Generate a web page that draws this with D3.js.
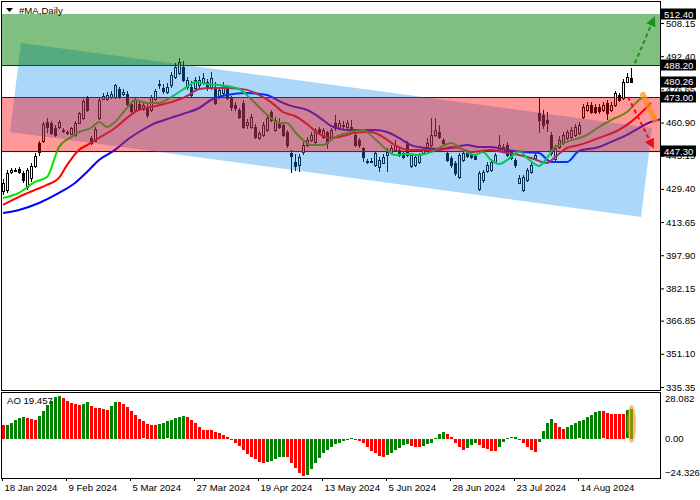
<!DOCTYPE html>
<html><head><meta charset="utf-8">
<script src="https://cdn.jsdelivr.net/npm/d3@7"></script>
<style>
body{margin:0;background:#fff}
svg{display:block}
text{font-family:"Liberation Sans",Arial,sans-serif;font-size:9.6px;fill:#000}
</style>
</head><body>
<svg id="c" width="700" height="500"></svg>
<script>
// ---------- data ----------
const dateIdx = [0,16,32,48,64,80,96,112,128,144];
const dateLabels = ["18 Jan 2024","9 Feb 2024","5 Mar 2024","27 Mar 2024","19 Apr 2024","13 May 2024","5 Jun 2024","28 Jun 2024","23 Jul 2024","14 Aug 2024"];
const priceTicks = [508.15,492.40,476.65,460.90,445.15,429.40,413.65,397.90,382.15,366.85,351.10,335.35];
const markedPrices = [512.40,488.20,480.26,473.00,447.30];
const aoTicks = [28.082,0,-24.326];

const opens = [428.5,429,437.5,438.3,438.8,437,430.5,434.5,440.5,451,
452,461,460.5,458.5,458.8,457.5,456.5,455.5,455,460.5,
463,472.5,453.5,452.3,463,472,472,473,473,477,
474.5,474.5,469.5,467,469.5,467.5,468.5,467,472,478.5,
477.5,475.4,478.7,482.5,484.4,487.3,477.8,477.8,477.3,478.7,
479.7,480.2,477.8,477.8,473,474.9,477.3,472.5,469.2,466.9,
470.2,459.7,458.8,458.8,453.6,455.0,457.4,465.9,457.4,461.1,
459.7,456.4,446.5,442.2,440.7,446.9,450.2,452.6,451.7,457.8,
454.0,456.4,453.6,460.7,458.3,459.9,458.8,458.8,455.0,452.6,
448.8,442.6,442.6,440.7,439.8,441.7,445.5,446.4,447.9,447.9,
446.4,451.2,440.3,440.7,442.2,446.4,449.3,450.2,455,456.4,
452.6,446.4,444.0,441.7,435.0,443.1,446.4,446.0,445.0,429.5,
433.6,437.9,438.4,442.2,447.9,447.4,450.2,447,443.1,432.2,
428.9,433.6,437.4,444.0,465.4,464.5,462.1,455.0,443.6,449.3,
451.2,453.6,454.0,455.0,456,463.5,466.9,469.2,468.3,468.3,
466.9,470.2,466.9,469.2,474.0,472.5,480.2,482.0];
const highs = [434.0,438.5,439.5,439.5,440,438,439.5,441.5,446.5,452,
461,463,461.5,459.5,462,458.5,457.5,459,461.5,466,
472,473.5,454.5,459,472.5,475,475.5,476,479,478,
477,476,470.5,473,470.5,470.5,469.5,474,477,481,
479,479.5,485,489.2,491.5,490,482.5,480.5,482.5,483,
484.5,481.5,485,480,477.5,480,478.5,473.5,470.5,468,
471.5,462.5,465,460,457,461,464.5,467,463.5,463,
461,457.5,448,446,446,451.5,454,456.5,458.5,459,
458.5,457,458.5,464.5,462,461.5,462,462.1,456,453.5,
449.5,443.5,444,447.5,444.5,446,448.8,450,452.6,449,
447.5,452,446.5,446,446.5,449,453.6,463,463,459.7,
453.5,447.5,445,442.5,446.5,447.5,448,447,446,438,
438.5,442,443.5,446.5,455,450.5,451.5,448,444,436,
436,439.5,442,447,473,467,466,456.5,450,454.5,
456.5,457.5,459,460,461,469.5,470.5,470.5,469.5,469.5,
470.5,471.5,470.5,476,475,481.5,484.4,487];
const lows = [426.5,427.5,436.5,437.5,436.5,432,429,432.5,439.5,445,
451,456,455,454,458,456,455,455,454,460,
462,466,450,451.5,462,471.5,471,472,472,472,
473.5,468,465,466,466.5,466.5,463,466,471,477,
474.5,474.5,477.5,481.5,483.5,480,476.5,473,476.5,477.5,
478.5,476,476.5,469,472,474,471.5,466.5,466.5,462.5,
458,458,458,453,452.5,454,456.5,461,456.5,458,
454,449,437,438,437.5,445.5,449.5,451.5,450.5,455.5,
453,448.5,452.5,457,457.5,458,458,455.5,449.5,449,
442,441,441.5,440,437.5,441,437.5,445.5,447,444.5,
443.5,444.5,439.5,440,441,445.5,448.5,449.5,454,453,
450,442,439.5,435.5,434,442,444,443.5,443,428.5,
432,437,437.5,441.5,447,446.5,444.5,443,439.5,431.5,
428,432.5,436.5,443,456,458,456.5,445,442,448.5,
450,452.5,453,454,455,462.5,466,465,465,465,
466,462.1,466,468.5,470.5,471.5,479.5,479.5];
const closes = [432.0,437,438.5,438.6,437.5,433.5,438.5,440.5,445,447,
460,458.8,455.8,455,461,457.2,456,458.3,460.5,465.2,
471,467,451,458,471.6,473.5,474,474.5,478.5,473,
475.5,469.5,466.5,471.5,467.5,469,464.5,473,476,479,
475.8,477.8,483.5,487.3,489.6,481.1,481.1,474.0,481.1,481.1,
482,477.3,482,470.2,476.3,478.7,472.5,468.3,467.8,463.5,
458.8,461,463.5,454.0,455.9,459.7,463,462.1,462.1,458.8,
455,450.2,445.0,440.3,444.5,450.2,452.6,455,457.4,456.4,
457.4,451.2,457.4,458.3,460.7,459.5,460.7,456.4,450.2,450.2,
444.5,442.2,442.8,446.4,443.1,444.5,446.9,448.8,450.2,445.5,
444.5,445.5,445.5,444.5,445.5,447.9,451.2,455,457.4,454.0,
451.2,443.1,440.7,436.9,445.5,446.4,445.0,444.5,443.8,437.0,
437.3,440.7,442.2,445.5,450.2,449.3,445.5,444,440.7,434.5,
435.0,438.4,440.7,445.5,462.1,459.7,460.7,446.4,449,452.6,
455,456.4,457.4,458.8,459.7,468.3,469.2,465.9,465.9,466.4,
469.2,465.4,469.2,474.9,471.6,480.2,482.5,480.26];

// Alligator lines (sampled, shifted forward)
const lipsIdx = [0,4,8,11,13,14,17,19,22,24,26,28,31,33,36,39,42,46,48,51,54,59,62,65,67,69,71,73,75,77,80,83,87,90,93,96,98,101,104,107,110,112,115,118,120,122,124,127,129,131,134,136,138,141,146,149,152,156,159,160];
const lipsVal = [425.1,427.5,432.7,435.0,444.5,449.3,454.0,456.4,458.3,461.2,458.8,461.2,467.8,471.6,470.2,470.2,473.0,477.8,480.1,479.2,478.7,476.8,472.1,466.4,463.0,460.7,460.7,456.4,452.6,450.2,450.2,454.0,456.4,457.4,453.1,447.9,445.5,446.0,445.5,446.9,449.8,451.2,447.9,445.5,446.9,443.1,441.2,444.5,447.4,444.1,440.3,444.1,449.3,451.7,455.0,458.8,462.1,465.9,471.6,473.0];
const teethIdx = [0,4,8,11,14,16,19,21,24,28,31,34,37,42,46,49,52,56,61,64,67,70,73,76,79,82,85,88,92,95,98,101,105,109,112,114,117,122,126,129,132,136,138,141,144,149,154,157,161,162];
const teethVal = [421.8,425.6,428.9,431.3,434.6,440.7,447.9,450.2,453.6,458.3,463.1,466.9,468.3,470.6,473.5,476.8,477.3,477.3,476.4,474.0,470.6,465.9,464.0,460.2,455.5,453.6,454.5,456.0,456.4,454.0,450.2,447.9,447.9,447.9,449.3,448.8,446.9,447.9,446.4,445.5,444.1,441.7,444.5,448.8,450.2,453.6,457.4,461.2,468.3,470.2];
const jawIdx = [0,4,9,14,18,21,24,28,31,34,37,42,45,49,52,56,61,66,69,72,76,79,82,86,89,93,96,99,102,106,109,112,116,119,122,126,130,134,137,141,144,149,152,156,159,162,165];
const jawVal = [417.9,419.4,422.7,427.5,432.2,437.4,443.1,447.9,452.6,456.4,459.7,463.1,465.0,467.8,471.6,474.0,474.9,474.0,471.1,468.8,466.9,463.5,459.3,457.4,457.4,457.4,456.4,453.6,450.2,448.8,448.3,448.8,450.2,449.3,449.3,447.9,446.9,446.4,442.2,442.2,447.4,449.3,451.7,455.0,458.3,461.2,462.6];

// Awesome Oscillator
const aoValues = [9.2,9.4,10.7,12.4,13.5,14.2,13.5,12.9,12.4,15.1,
18.3,22.3,25.1,27.3,28.082,26.6,25.1,23.8,22.9,22.3,
22.9,24.2,21.6,20.1,20.0,19.4,19.0,21.6,24.2,24.1,
22.9,20.7,18.3,15.7,13.1,11.4,9.6,9.2,9.1,9.8,
10.3,11.4,12.4,13.5,14.2,15.3,14.2,12.4,10.7,7.6,
5.9,5.8,5.7,4.8,3.7,2.6,1.1,-0.7,-2.8,-4.6,
-7.2,-9.8,-11.6,-13.3,-14.8,-15.5,-15.3,-14.4,-13.3,-12.0,
-11.9,-12.1,-15.9,-19.2,-22.5,-24.326,-23.6,-19.9,-15.9,-12.7,
-9.4,-7.2,-5.0,-3.5,-2.4,-1.1,0.0,
0.4,-0.3,-1.3,-2.8,-5.0,-7.6,-9.4,-11.1,-11.6,-10.5,
-9.0,-7.2,-5.7,-3.9,-3.5,-4.6,-5.0,-5.1,-4.6,-3.5,
-2.4,0.6,3.1,4.4,3.1,1.1,-2.4,-5.0,-7.2,-5.7,
-3.9,-2.8,-3.9,-5.7,-6.8,-7.6,-7.7,-5.0,-1.7,0.5,
0.9,1.1,-0.7,-2.4,-5.0,-7.2,-8.3,-1.7,5.2,10.3,
12.9,10.3,8.1,6.6,8.1,9.2,10.3,11.4,12.4,14.2,
15.7,17.5,18.1,18.0,16.8,16.4,16.3,16.2,16.1,18.6,
19.457];
const aoHighlight = {i:157, from:-2.6, to:22.2};

// Drawn objects (bar index, price)
const channel = [[4.5,498.7],[162.25,458.3],[159.5,416.1],[1.75,456.4]];
const greenZone = [512.40,488.20];
const redZone = [473.00,447.30];
const hLines = [488.20,473.00,447.30];
const upArrow = [[158,489.1],[162.75,510.5]];
const downArrow = [[156.25,473.0],[162.5,449.3]];
const orangeStroke = [[160,474.0],[163,462.1]];

// ---------- scales ----------
const R=660, L=2, mainTop=2, mainBot=390, aoTop=393, aoBot=478;
const x = d3.scaleLinear().domain([0,1]).range([3,7]);
const px = i => Math.round(x(i));
const y = d3.scaleLinear().domain([335.35,508.15]).range([387,23]);
const ya = d3.scaleLinear().domain([-24.326,28.082]).range([476,396]);

const svg = d3.select("#c");
const defs = svg.append("defs");
defs.append("clipPath").attr("id","cm").append("rect").attr("x",L).attr("y",mainTop).attr("width",R-L).attr("height",mainBot-mainTop);
defs.append("clipPath").attr("id","ca").append("rect").attr("x",L).attr("y",aoTop).attr("width",R-L).attr("height",aoBot-aoTop);
defs.append("marker").attr("id","ag").attr("viewBox","0 0 10 10").attr("refX",8).attr("refY",5)
  .attr("markerWidth",5).attr("markerHeight",5).attr("orient","auto")
  .append("path").attr("d","M0,0L10,5L0,10Z").attr("fill","#1f8f1f");
defs.append("marker").attr("id","ar").attr("viewBox","0 0 10 10").attr("refX",8).attr("refY",5)
  .attr("markerWidth",5).attr("markerHeight",5).attr("orient","auto")
  .append("path").attr("d","M0,0L10,5L0,10Z").attr("fill","#e8101a");

const gm = svg.append("g").attr("clip-path","url(#cm)");

// horizontal levels
gm.selectAll(".hl").data(hLines).join("line")
  .attr("x1",L).attr("x2",R).attr("y1",d=>Math.round(y(d))+0.5).attr("y2",d=>Math.round(y(d))+0.5)
  .attr("stroke","#000").attr("stroke-width",1).attr("shape-rendering","crispEdges");

// candles
const bars = d3.range(closes.length).map(i=>({i,o:opens[i],h:highs[i],l:lows[i],c:closes[i]}));
const gc = gm.append("g").attr("shape-rendering","crispEdges");
gc.selectAll(".w").data(bars).join("line")
  .attr("x1",d=>px(d.i)+0.5).attr("x2",d=>px(d.i)+0.5)
  .attr("y1",d=>Math.round(y(d.h))).attr("y2",d=>Math.round(y(d.l)))
  .attr("stroke","#000");
gc.selectAll(".b").data(bars).join("rect")
  .attr("x",d=>px(d.i)-0.5)
  .attr("y",d=>Math.round(y(Math.max(d.o,d.c)))+0.5)
  .attr("width",2)
  .attr("height",d=>Math.max(1,Math.round(y(Math.min(d.o,d.c)))-Math.round(y(Math.max(d.o,d.c)))))
  .attr("fill",d=>d.c>=d.o?"#fff":"#000").attr("stroke","#000");

// alligator
const ln = d3.line().x(d=>x(d[0])).y(d=>y(d[1])).curve(d3.curveMonotoneX);
[[jawIdx,jawVal,"#0000ff"],[teethIdx,teethVal,"#ff0000"],[lipsIdx,lipsVal,"#00e600"]].forEach(([ix,vv,col])=>{
  gm.append("path").attr("d",ln(ix.map((k,j)=>[k,vv[j]]))).attr("fill","none").attr("stroke",col).attr("stroke-width",2);
});

// translucent channel and zones on top
gm.append("path").attr("d", d3.line().x(d=>x(d[0])).y(d=>y(d[1]))(channel)+"Z")
  .attr("fill","rgb(12,141,241)").attr("fill-opacity",0.35);
gm.append("rect").attr("x",L).attr("width",R-L)
  .attr("y",y(redZone[0])).attr("height",y(redZone[1])-y(redZone[0])+1)
  .attr("fill","rgb(255,0,0)").attr("fill-opacity",0.4);
gm.append("rect").attr("x",L).attr("width",R-L)
  .attr("y",y(greenZone[0])).attr("height",y(greenZone[1])-y(greenZone[0])+1)
  .attr("fill","rgb(0,128,0)").attr("fill-opacity",0.5);

// arrows
gm.append("line").attr("x1",x(orangeStroke[0][0])).attr("y1",y(orangeStroke[0][1]))
  .attr("x2",x(orangeStroke[1][0])).attr("y2",y(orangeStroke[1][1]))
  .attr("stroke","#ff8c1a").attr("stroke-opacity",0.7).attr("stroke-width",6).attr("stroke-linecap","round");
gm.append("line").attr("x1",x(upArrow[0][0])).attr("y1",y(upArrow[0][1]))
  .attr("x2",x(upArrow[1][0])).attr("y2",y(upArrow[1][1]))
  .attr("stroke","#1f8f1f").attr("stroke-width",2).attr("stroke-dasharray","4,3").attr("marker-end","url(#ag)");
gm.append("line").attr("x1",x(downArrow[0][0])).attr("y1",y(downArrow[0][1]))
  .attr("x2",x(downArrow[1][0])).attr("y2",y(downArrow[1][1]))
  .attr("stroke","#e8101a").attr("stroke-width",2).attr("stroke-dasharray","4,3").attr("marker-end","url(#ar)");

// AO panel
const ga = svg.append("g").attr("clip-path","url(#ca)").attr("shape-rendering","crispEdges");
ga.selectAll("rect").data(aoValues).join("rect")
  .attr("x",(d,i)=>px(i)-1).attr("width",3)
  .attr("y",d=>Math.round(Math.min(ya(d),ya(0))))
  .attr("height",d=>Math.max(1,Math.round(Math.abs(ya(d)-ya(0)))))
  .attr("fill",(d,i)=> (i>0 && d>aoValues[i-1]) ? "#008000" : "#ff0000");
svg.append("ellipse").attr("cx",px(aoHighlight.i)+0.5).attr("cy",(ya(aoHighlight.from)+ya(aoHighlight.to))/2)
  .attr("rx",4.5).attr("ry",(ya(aoHighlight.from)-ya(aoHighlight.to))/2)
  .attr("fill","#e89a10").attr("fill-opacity",0.6);

// frames
const fr = svg.append("g").attr("fill","none").attr("stroke","#000").attr("shape-rendering","crispEdges");
fr.append("rect").attr("x",1.5).attr("y",1.5).attr("width",R-1.5).attr("height",mainBot-1.5);
fr.append("rect").attr("x",1.5).attr("y",aoTop-0.5).attr("width",R-1.5).attr("height",aoBot-aoTop+0.5);

// price axis
const ay = svg.append("g").attr("transform",`translate(${R},0)`)
  .call(d3.axisRight(y).tickValues(priceTicks).tickSize(4).tickPadding(2).tickFormat(d3.format(".2f")));
ay.select(".domain").remove();
ay.attr("font-family",null).attr("font-size",null);

// marked price boxes
const mb = svg.append("g");
mb.selectAll("rect").data(markedPrices).join("rect")
  .attr("x",R+1).attr("width",35).attr("y",d=>Math.round(y(d))-5.5).attr("height",11).attr("fill","#000");
mb.selectAll("text").data(markedPrices).join("text")
  .attr("x",R+4).attr("y",d=>y(d)+3.5).style("fill","#fff").text(d=>d.toFixed(2));

// AO axis
const aa = svg.append("g").attr("transform",`translate(${R},0)`)
  .call(d3.axisRight(ya).tickValues(aoTicks).tickSize(0).tickPadding(5).tickFormat(d=>d===0?"0.00":d3.format(".3f")(d)));
aa.select(".domain").remove();
aa.attr("font-family",null).attr("font-size",null);
aa.selectAll("text").attr("y",(d)=> d===28.082?2:(d<0?-4:0));

// date axis
const ax = svg.append("g").attr("transform",`translate(-1,${aoBot})`)
  .call(d3.axisBottom(x).tickValues(dateIdx).tickSize(3).tickPadding(3).tickFormat((d,i)=>dateLabels[i]));
ax.select(".domain").remove();
ax.attr("font-family",null).attr("font-size",null);
ax.selectAll("text").attr("text-anchor","start").attr("x",2);

// titles
svg.append("path").attr("d","M6,8L13,8L9.5,12Z").attr("fill","#000");
svg.append("text").attr("x",19).attr("y",14).text("#MA,Daily");
svg.append("text").attr("x",7).attr("y",404).text("AO 19.457");
</script>
</body></html>
